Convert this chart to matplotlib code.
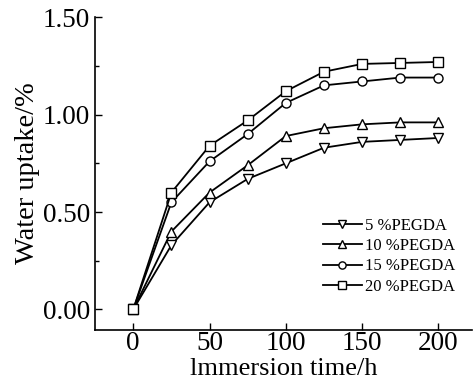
import matplotlib
matplotlib.use("Agg")
import matplotlib.pyplot as plt
from matplotlib.ticker import MultipleLocator

plt.rcParams['font.family'] = ['Liberation Serif', 'DejaVu Serif']

time_h = [0, 25, 50, 75, 100, 125, 150, 175, 200]
pegda_5 = [0, 0.33, 0.55, 0.67, 0.75, 0.83, 0.86, 0.87, 0.88]
pegda_10 = [0, 0.40, 0.60, 0.74, 0.89, 0.93, 0.95, 0.96, 0.96]
pegda_15 = [0, 0.55, 0.76, 0.90, 1.06, 1.15, 1.17, 1.19, 1.19]
pegda_20 = [0, 0.60, 0.84, 0.97, 1.12, 1.22, 1.26, 1.265, 1.27]
labels = ['5 %PEGDA', '10 %PEGDA', '15 %PEGDA', '20 %PEGDA']
markers = ['v', '^', 'o', 's']

fig = plt.figure(figsize=(4.73, 3.81), dpi=100)
ax = fig.add_axes([0.201, 0.134, 0.797, 0.821])

for ys, m, lab in zip([pegda_5, pegda_10, pegda_15, pegda_20], markers, labels):
    ax.plot(time_h, ys, color='black', lw=1.3, marker=m, markersize=6.5,
            markerfacecolor='white', markeredgecolor='black', markeredgewidth=1.0, label=lab)

ax.set_xlim(-25, 222)
ax.set_ylim(-0.105, 1.5)
ax.xaxis.set_major_locator(MultipleLocator(50))
ax.yaxis.set_minor_locator(MultipleLocator(0.25))
ax.set_yticks([0, 0.5, 1.0, 1.5])
ax.set_yticklabels(['0.00', '0.50', '1.00', '1.50'])
ax.tick_params(axis='both', which='major', direction='in', length=5, width=1, labelsize=19.5)
ax.tick_params(axis='x', which='major', pad=1)
ax.tick_params(axis='both', which='minor', direction='in', length=3, width=1)
ax.spines['top'].set_visible(False)
ax.spines['right'].set_visible(False)
ax.spines['left'].set_linewidth(1.2)
ax.spines['bottom'].set_linewidth(1.2)

ax.set_xlabel('lmmersion time/h', fontsize=19, labelpad=1)
ax.set_ylabel('Water uptake/%', fontsize=20.5, labelpad=2)

leg = ax.legend(loc='lower right', bbox_to_anchor=(0.995, 0.065), frameon=False, fontsize=12,
                handlelength=2.3, handletextpad=0.2, labelspacing=0.25, markerscale=0.8)

fig.savefig('out.png', dpi=100)
